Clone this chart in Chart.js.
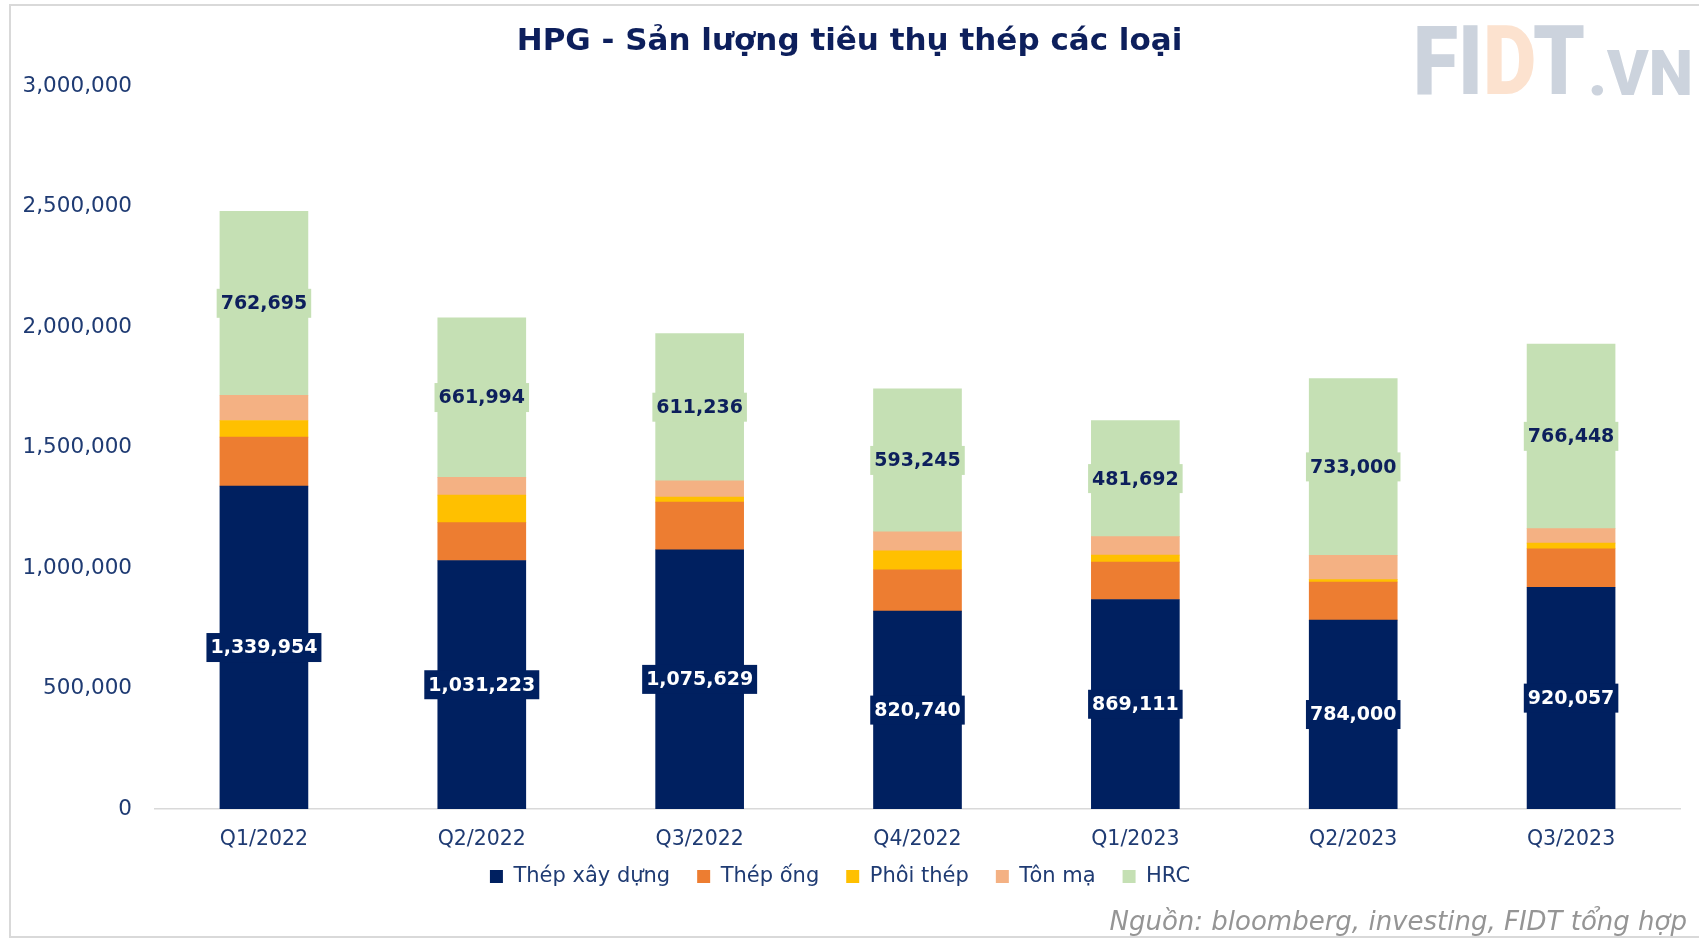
<!DOCTYPE html>
<html><head><meta charset="utf-8">
<script src="https://cdn.jsdelivr.net/npm/chart.js@4/dist/chart.umd.min.js"></script>
<style>
html,body{margin:0;padding:0;background:#fff;}
#wrap{position:relative;width:1699px;height:941px;overflow:hidden;background:#fff;}
#frame{position:absolute;left:9px;top:4px;width:1720px;height:934px;border:2px solid #d9d9d9;box-sizing:border-box;}
#c{position:absolute;left:0;top:0;}
#title{position:absolute;left:0;width:1699px;top:21px;text-align:center;font:bold 31px "DejaVu Sans";color:#0d1f5c;}
.logo{position:absolute;white-space:nowrap;font-family:Roboto;font-weight:900;color:#ccd3dd;line-height:1.2;}
#logo1{left:1413px;top:3px;font-size:97px;transform-origin:left top;transform:scaleX(0.85);}
#logo1 .d{color:#fce2cf;}
#logo2{left:1588px;top:36px;font-size:63px;}
#src{position:absolute;right:12px;top:906px;font:oblique 26px "DejaVu Sans";color:#959595;}
</style></head>
<body>
<div id="wrap">
<div id="frame"></div>
<canvas id="c" width="1699" height="941"></canvas>
<div id="title">HPG - Sản lượng tiêu thụ thép các loại</div>
<div class="logo" id="logo1">FI<span class="d">D</span>T</div>
<div class="logo" id="logo2">.VN</div>
<div id="src">Nguồn: bloomberg, investing, FIDT tổng hợp</div>
</div>
<script>
const categories = ['Q1/2022','Q2/2022','Q3/2022','Q4/2022','Q1/2023','Q2/2023','Q3/2023'];
const thepXayDung = [1339954,1031223,1075629,820740,869111,784000,920057];
const thepOng     = [203000,157000,198000,172000,155000,158000,160000];
const phoiThep    = [69000,114000,21000,78000,29000,10000,23000];
const tonMa       = [105000,74000,67000,79000,77000,101000,60000];
const hrc         = [762695,661994,611236,593245,481692,733000,766448];
const seriesNames = ['Thép xây dựng','Thép ống','Phôi thép','Tôn mạ','HRC'];
const seriesColors = ['#002060','#ED7D31','#FFC000','#F4B183','#C5E0B4'];
const yMin = 0, yMax = 3000000, yStep = 500000;

const navy = '#1f3b73';
const fontFam = 'DejaVu Sans';
const fmt = v => Number(v).toLocaleString('en-US');

const barLabels = {
  id:'barLabels',
  afterDatasetsDraw(chart){
    const ctx = chart.ctx;
    ctx.save();
    [[0,'#002060','#ffffff'],[4,'#C5E0B4','#0d1f5c']].forEach(([di,bg,fg])=>{
      const meta = chart.getDatasetMeta(di);
      meta.data.forEach((bar,i)=>{
        const txt = fmt(chart.data.datasets[di].data[i]);
        const cx = bar.x, cy = (bar.y + bar.base)/2;
        ctx.font = 'bold 19px "DejaVu Sans"';
        const w = ctx.measureText(txt).width;
        const padX = 4, h = 29;
        ctx.fillStyle = bg;
        ctx.fillRect(cx - w/2 - padX, cy - h/2, w + 2*padX, h);
        ctx.fillStyle = fg;
        ctx.textAlign = 'center';
        ctx.textBaseline = 'middle';
        ctx.fillText(txt, cx, cy + 1);
      });
    });
    ctx.restore();
  }
};

const legendShift = {
  id:'legendShift',
  afterLayout(chart){
    const lg = chart.legend;
    if (lg) { lg.top -= 15; lg.bottom -= 15; }
  }
};

const dataArrays = [thepXayDung, thepOng, phoiThep, tonMa, hrc];
new Chart(document.getElementById('c'), {
  type:'bar',
  data:{
    labels: categories,
    datasets: dataArrays.map((d,i)=>({
      label: seriesNames[i],
      data: d,
      backgroundColor: seriesColors[i],
      borderWidth: 0,
      barThickness: 88
    }))
  },
  options:{
    responsive:false,
    animation:false,
    devicePixelRatio:1,
    layout:{padding:{left:0,right:19,top:86,bottom:29}},
    plugins:{
      legend:{
        position:'bottom',
        labels:{
          font:{family:fontFam,size:21},
          color:navy,
          boxWidth:13,
          boxHeight:13,
          padding:27
        }
      },
      tooltip:{enabled:false},
      title:{display:false}
    },
    scales:{
      x:{
        stacked:true,
        grid:{display:false,drawTicks:false},
        border:{display:true,color:'#d9d9d9',width:1.5},
        ticks:{font:{family:fontFam,size:20.5},color:navy,padding:18},
        afterFit(s){ s.height = 45; }
      },
      y:{
        stacked:true,
        min:yMin,max:yMax,
        grid:{display:false,drawTicks:false},
        border:{display:false},
        ticks:{stepSize:yStep,font:{family:fontFam,size:21.5},color:navy,padding:23,callback:v=>fmt(v)},
        afterFit(s){ s.width = 155; }
      }
    }
  },
  plugins:[barLabels, legendShift]
});
</script>
</body></html>
